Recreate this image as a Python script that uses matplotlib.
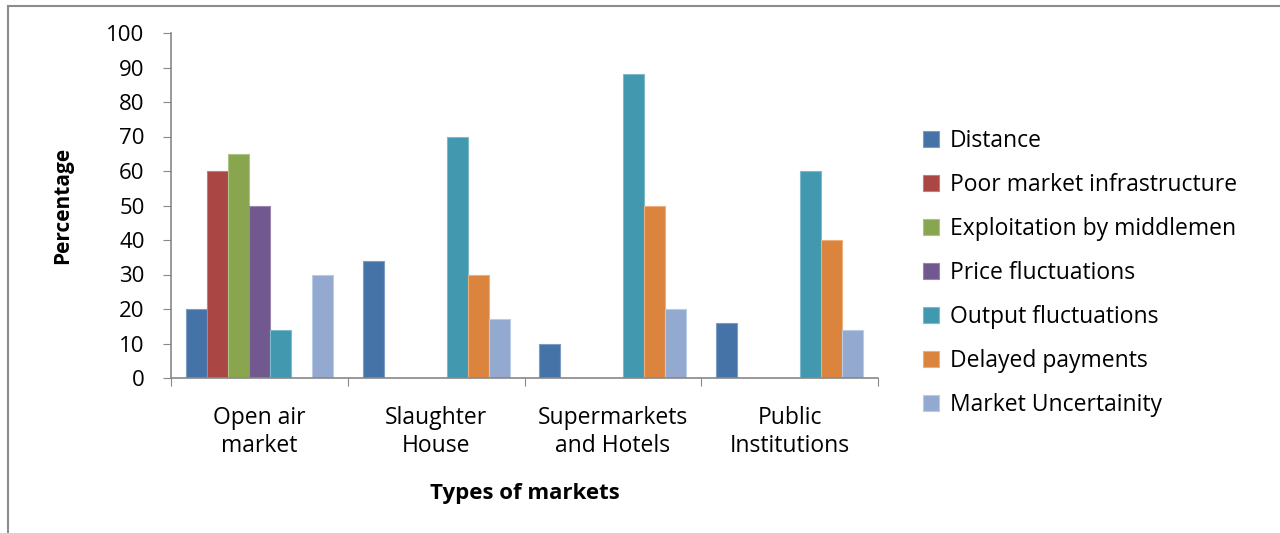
import matplotlib.pyplot as plt
import numpy as np
from matplotlib.lines import Line2D

# survey results: constraints faced by farmers, by type of market (%)
markets = ['Open air\nmarket', 'Slaughter\nHouse', 'Supermarkets\nand Hotels', 'Public\nInstitutions']
constraints = ['Distance', 'Poor market infrastructure', 'Exploitation by middlemen',
               'Price fluctuations', 'Output fluctuations', 'Delayed payments',
               'Market Uncertainity']
distance = [20, 34, 10, 16]
poor_infrastructure = [60, 0, 0, 0]
exploitation = [65, 0, 0, 0]
price_fluct = [50, 0, 0, 0]
output_fluct = [14, 70, 88, 60]
delayed_pay = [0, 30, 50, 40]
uncertainty = [30, 17, 20, 14]

series = [distance, poor_infrastructure, exploitation, price_fluct,
          output_fluct, delayed_pay, uncertainty]
colors = ['#4572A7', '#AA4643', '#89A54E', '#71588F', '#4198AF', '#DB843D', '#93A9CF']
edges = ['#7C9CC4', '#C77C79', '#AEC386', '#9884AE', '#7EBACB', '#EDAE7B', '#BCCBE4']

plt.rcParams['font.family'] = ['Open Sans', 'DejaVu Sans']

fig = plt.figure(figsize=(12.8, 5.33), dpi=100)
ax = fig.add_axes([171 / 1280, 1 - 378 / 533, (878 - 171) / 1280, (378 - 33) / 533])

n = len(series)
width = 0.119
x = np.arange(len(markets)) + 0.5
for i, (vals, c, ec) in enumerate(zip(series, colors, edges)):
    offs = (i - (n - 1) / 2) * width
    ax.bar(x + offs, vals, width, color=c, edgecolor=ec, linewidth=0.8,
           label=constraints[i])

ax.set_xlim(0, len(markets))
ax.set_ylim(0, 100)
ax.set_yticks(range(0, 101, 10))
ax.set_xticks(range(0, len(markets) + 1))
ax.set_xticklabels([])
ax.set_xticks(x, minor=True)
ax.set_xticklabels(markets, minor=True, fontsize=16.5, linespacing=1.25)
ax.tick_params(axis='x', which='minor', length=0, pad=20)
ax.tick_params(axis='x', which='major', length=6, color='#888888', direction='out')
ax.tick_params(axis='y', length=6, color='#888888', labelsize=16, pad=13)

for s in ['top', 'right']:
    ax.spines[s].set_visible(False)
for s in ['left', 'bottom']:
    ax.spines[s].set_color('#888888')
    ax.spines[s].set_linewidth(1.2)

ax.set_ylabel('Percentage', fontsize=15, fontweight='bold', labelpad=24)
ax.set_xlabel('Types of markets', fontsize=16, fontweight='bold', labelpad=18)

ax.legend(loc='center left', bbox_to_anchor=(1.035, 0.305), frameon=False,
          fontsize=16.5, handlelength=0.7, handleheight=0.7, handletextpad=0.45,
          labelspacing=0.87)

# chart area border
fig.add_artist(Line2D([8 / 1280, 8 / 1280], [0, 1 - 6 / 533], color='#8C8C8C', lw=1.5))
fig.add_artist(Line2D([8 / 1280, 1], [1 - 6 / 533, 1 - 6 / 533], color='#8C8C8C', lw=1.5))

fig.savefig('out.png', dpi=100, facecolor='white')
